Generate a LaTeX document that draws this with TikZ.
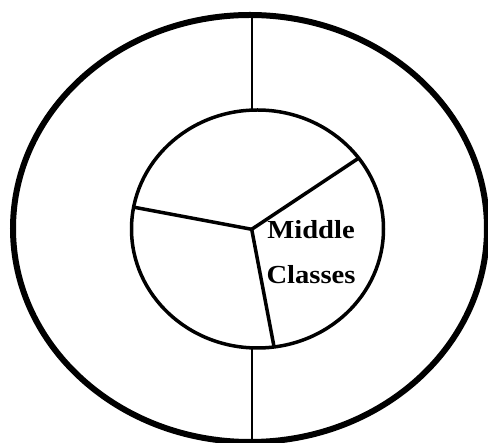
\documentclass[tikz,border=0pt]{standalone}
\usepackage{fontspec}
\setmainfont{Liberation Serif}
\usetikzlibrary{shapes.geometric}

\begin{document}
\begin{tikzpicture}[x=1pt,y=-1pt,line width=3.5pt]
\tikzset{ring/.style={draw,ellipse,inner sep=0pt,outer sep=0pt}}
\path[use as bounding box] (0,0) rectangle (488,443);
\node[ring,line width=6pt,minimum width=474pt,minimum height=427pt] (outer) at (250,228.5) {};
\node[ring,minimum width=252pt,minimum height=238pt] (inner) at (257.5,229) {};
\coordinate (hub) at (251.7,229.3);
\draw[line width=1.8pt] (outer.north -| hub) -- (inner.north -| hub);
\draw[line width=1.8pt] (inner.south -| hub) -- (outer.south -| hub);
\draw (hub) -- (inner.170);
\draw (hub) -- (inner.35);
\draw (hub) -- (inner.278);
\node[align=center,inner sep=0pt,font=\fontsize{26}{45}\selectfont\bfseries,xscale=1.1] (label) at (311,252) {Middle\\Classes};
\end{tikzpicture}
\end{document}
